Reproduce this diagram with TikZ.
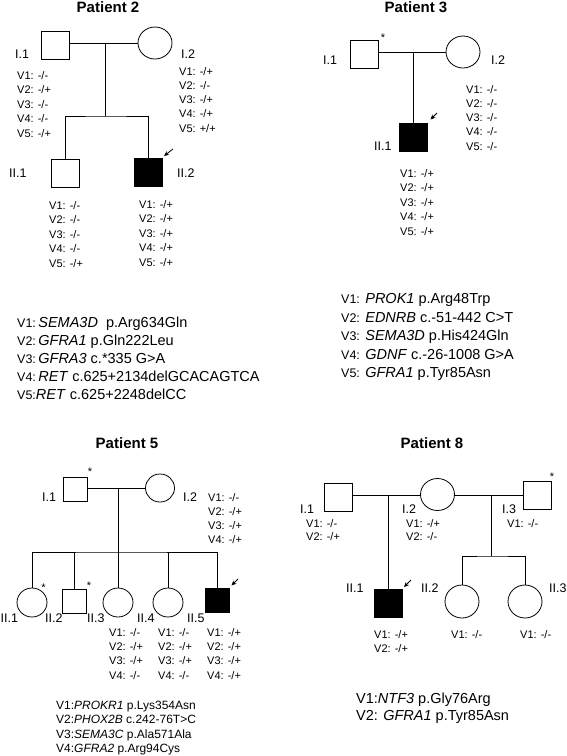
\documentclass[tikz,border=0pt]{standalone}
\usepackage{fontspec}
\setmainfont{Liberation Sans}
\usetikzlibrary{shapes.geometric,arrows.meta}
\newcommand{\gstack}[5]{%
  \foreach \t [count=\k] in {#5} {
    \node[gt] (#1-\k) at (#2, {#3+(\k-1)*#4}) {\t};
  }%
}
\newcommand{\vl}[1]{{\fontsize{12.5}{14}\selectfont #1}}
\begin{document}
\begin{tikzpicture}[x=1pt,y=-1pt,
  sq/.style={draw, line width=0.8pt, minimum size=28, inner sep=0, fill=white},
  aff/.style={sq, fill=black},
  ci/.style={draw, ellipse, line width=0.8pt, minimum width=34, minimum height=32, inner sep=0},
  ln/.style={line width=0.8pt},
  prob/.style={-{Stealth[length=5pt,width=4.5pt]}, line width=0.8pt},
  gt/.style={font=\fontsize{11}{13}\selectfont, inner sep=0, anchor=base west},
  lab/.style={font=\fontsize{12.5}{14}\selectfont, inner sep=0, anchor=base west},
  ttl/.style={font=\bfseries\fontsize{15}{17}\selectfont, inner sep=0},
  leg/.style={font=\fontsize{14.5}{17}\selectfont, inner sep=0, anchor=base west},
  legs/.style={font=\fontsize{12}{14}\selectfont, inner sep=0, anchor=base west},
  star/.style={font=\fontsize{11}{12}\selectfont, inner sep=0}]
\path[use as bounding box, fill=white] (0,0) rectangle (567,756);

% ================= Patient 2 =================
\node[ttl] (t2) at (108,7) {Patient 2};
\node[sq] (p2i1) at (55,45) {};
\node[ci] (p2i2) at (155,43) {};
\coordinate (p2m) at (105,43);
\coordinate (p2s) at (105,116);
\node[sq] (p2c1) at (65.5,173) {};
\node[aff] (p2c2) at (148,172.5) {};
\draw[ln] (p2i1.east |- p2m) -- (p2i2.west);
\draw[ln] (p2m) -- (p2s);
\draw[ln] (p2c1.north) |- (p2s) -| (p2c2.north);
\coordinate (p2a1) at (173,149);
\coordinate (p2a2) at (164,156);
\draw[prob] (p2a1) -- (p2a2);
\node[lab] (p2l1) at (15,58.5) {I.1};
\node[lab] (p2l2) at (181,58.5) {I.2};
\node[lab] (p2l3) at (9,177.5) {II.1};
\node[lab] (p2l4) at (177,177.5) {II.2};
\gstack{p2g1}{17}{79}{14.5}{V1: -/-,V2: -/+,V3: -/-,V4: -/-,V5: -/+}
\gstack{p2g2}{179}{75}{14.3}{V1: -/+,V2: -/-,V3: -/+,V4: -/+,V5: +/+}
\gstack{p2g3}{49}{209}{14.5}{V1: -/-,V2: -/-,V3: -/-,V4: -/-,V5: -/+}
\gstack{p2g4}{139}{208}{14.5}{V1: -/+,V2: -/+,V3: -/+,V4: -/+,V5: -/+}
\node[leg] (p2v1) at (17,327) {\vl{V1:}\,\textit{SEMA3D}\ \ p.Arg634Gln};
\node[leg] (p2v2) at (17,345) {\vl{V2:}\,\textit{GFRA1} p.Gln222Leu};
\node[leg] (p2v3) at (17,363) {\vl{V3:}\,\textit{GFRA3} c.*335 G>A};
\node[leg] (p2v4) at (17,381) {\vl{V4:}\,\textit{RET} c.625+2134delGCACAGTCA};
\node[leg] (p2v5) at (17,399) {\vl{V5:}\textit{RET} c.625+2248delCC};

% ================= Patient 3 =================
\node[ttl] (t3) at (416,7) {Patient 3};
\node[sq] (p3i1) at (364,54) {};
\node[ci] (p3i2) at (463,52) {};
\node[star] (p3s1) at (383,38) {*};
\coordinate (p3m) at (413,52);
\node[aff] (p3c1) at (413,137.5) {};
\draw[ln] (p3i1.east |- p3m) -- (p3i2.west);
\draw[ln] (p3m) -- (p3c1.north);
\coordinate (p3a1) at (437,113);
\coordinate (p3a2) at (430.5,119.5);
\draw[prob] (p3a1) -- (p3a2);
\node[lab] (p3l1) at (323,64.5) {I.1};
\node[lab] (p3l2) at (491,64.5) {I.2};
\node[lab] (p3l3) at (374,150.5) {II.1};
\gstack{p3g1}{466}{93}{14.3}{V1: -/-,V2: -/-,V3: -/-,V4: -/-,V5: -/-}
\gstack{p3g2}{400}{177}{14.5}{V1: -/+,V2: -/+,V3: -/+,V4: -/+,V5: -/+}
\node[leg] (p3v1) at (341,303.5) {\vl{V1:} \textit{PROK1} p.Arg48Trp};
\node[leg] (p3v2) at (341,322) {\vl{V2:} \textit{EDNRB} c.-51-442 C>T};
\node[leg] (p3v3) at (341,340.5) {\vl{V3:} \textit{SEMA3D} p.His424Gln};
\node[leg] (p3v4) at (341,359) {\vl{V4:} \textit{GDNF} c.-26-1008 G>A};
\node[leg] (p3v5) at (341,377.5) {\vl{V5:} \textit{GFRA1} p.Tyr85Asn};

% ================= Patient 5 =================
\node[ttl] (t5) at (127,443) {Patient 5};
\node[sq, minimum size=24] (p5i1) at (75,489) {};
\node[ci, minimum width=29, minimum height=28] (p5i2) at (160,488) {};
\node[star] (p5s1) at (90,472) {*};
\coordinate (p5m) at (118,488);
\coordinate (p5s) at (118,552);
\node[ci, minimum width=30, minimum height=29] (p5c1) at (32,602.5) {};
\node[sq, minimum size=24] (p5c2) at (74,601) {};
\node[ci, minimum width=30, minimum height=29] (p5c3) at (118,602.5) {};
\node[ci, minimum width=30, minimum height=29] (p5c4) at (168,602.5) {};
\node[aff, minimum size=24] (p5c5) at (217,600.5) {};
\node[star] (p5s2) at (43.5,588) {*};
\node[star] (p5s3) at (89,586) {*};
\draw[ln] (p5i1.east |- p5m) -- (p5i2.west);
\draw[ln] (p5m) -- (p5s);
\draw[ln] (p5c1.north) |- (p5s) -| (p5c5.north);
\draw[ln] (p5c2.north) -- (p5c2.north |- p5s);
\draw[ln] (p5c3.north) -- (p5s);
\draw[ln] (p5c4.north) -- (p5c4.north |- p5s);
\coordinate (p5a1) at (238,579);
\coordinate (p5a2) at (231.5,585.5);
\draw[prob] (p5a1) -- (p5a2);
\node[lab] (p5l1) at (42,501.5) {I.1};
\node[lab] (p5l2) at (183,501.5) {I.2};
\node[lab] (p5l3) at (0.5,622) {II.1};
\node[lab] (p5l4) at (45,622) {II.2};
\node[lab] (p5l5) at (87,622) {II.3};
\node[lab] (p5l6) at (137,622) {II.4};
\node[lab] (p5l7) at (187,622) {II.5};
\gstack{p5g1}{208}{501}{14}{V1: -/-,V2: -/+,V3: -/+,V4: -/+}
\gstack{p5g2}{109}{636}{14.4}{V1: -/-,V2: -/+,V3: -/+,V4: -/-}
\gstack{p5g3}{158}{636}{14.4}{V1: -/-,V2: -/+,V3: -/+,V4: -/-}
\gstack{p5g4}{207}{636}{14.4}{V1: -/+,V2: -/+,V3: -/+,V4: -/+}
\node[legs] (p5v1) at (56,709.3) {V1:\textit{PROKR1} p.Lys354Asn};
\node[legs] (p5v2) at (56,723.7) {V2:\textit{PHOX2B} c.242-76T>C};
\node[legs] (p5v3) at (56,738.1) {V3:\textit{SEMA3C} p.Ala571Ala};
\node[legs] (p5v4) at (56,752.5) {V4:\textit{GFRA2} p.Arg94Cys};

% ================= Patient 8 =================
\node[ttl] (t8) at (432,443) {Patient 8};
\node[sq] (p8i1) at (338,497) {};
\node[ci] (p8i2) at (437.5,494.5) {};
\node[sq] (p8i3) at (537,495.5) {};
\node[star] (p8s1) at (552,477) {*};
\coordinate (p8m1) at (388,495);
\coordinate (p8m2) at (491,495);
\coordinate (p8s) at (491,556);
\node[aff] (p8c1) at (388,603.5) {};
\node[ci, minimum height=33] (p8c2) at (462,601.5) {};
\node[ci, minimum height=33] (p8c3) at (525,601.5) {};
\draw[ln] (p8i1.east |- p8m1) -- (p8i2.west |- p8m1);
\draw[ln] (p8i2.east |- p8m2) -- (p8i3.west |- p8m2);
\draw[ln] (p8m1) -- (p8c1.north);
\draw[ln] (p8m2) -- (p8s);
\draw[ln] (p8c2.north) |- (p8s) -| (p8c3.north);
\coordinate (p8a1) at (411,580);
\coordinate (p8a2) at (404,587);
\draw[prob] (p8a1) -- (p8a2);
\node[lab] (p8l1) at (300,513.5) {I.1};
\node[lab] (p8l2) at (402,513.5) {I.2};
\node[lab] (p8l3) at (502,513.5) {I.3};
\node[lab] (p8l4) at (346,592.5) {II.1};
\node[lab] (p8l5) at (421,592.5) {II.2};
\node[lab] (p8l6) at (549,592.5) {II.3};
\gstack{p8g1}{306}{527}{13.5}{V1: -/-,V2: -/+}
\gstack{p8g2}{406}{527}{13.5}{V1: -/+,V2: -/-}
\gstack{p8g3}{507}{527}{13.5}{V1: -/-}
\gstack{p8g4}{374}{638}{14}{V1: -/+,V2: -/+}
\gstack{p8g5}{451}{638}{14}{V1: -/-}
\gstack{p8g6}{520}{638}{14}{V1: -/-}
\node[leg] (p8v1) at (356,703.4) {V1:\textit{NTF3} p.Gly76Arg};
\node[leg] (p8v2) at (356,720.4) {V2: \textit{GFRA1} p.Tyr85Asn};
\end{tikzpicture}
\end{document}
